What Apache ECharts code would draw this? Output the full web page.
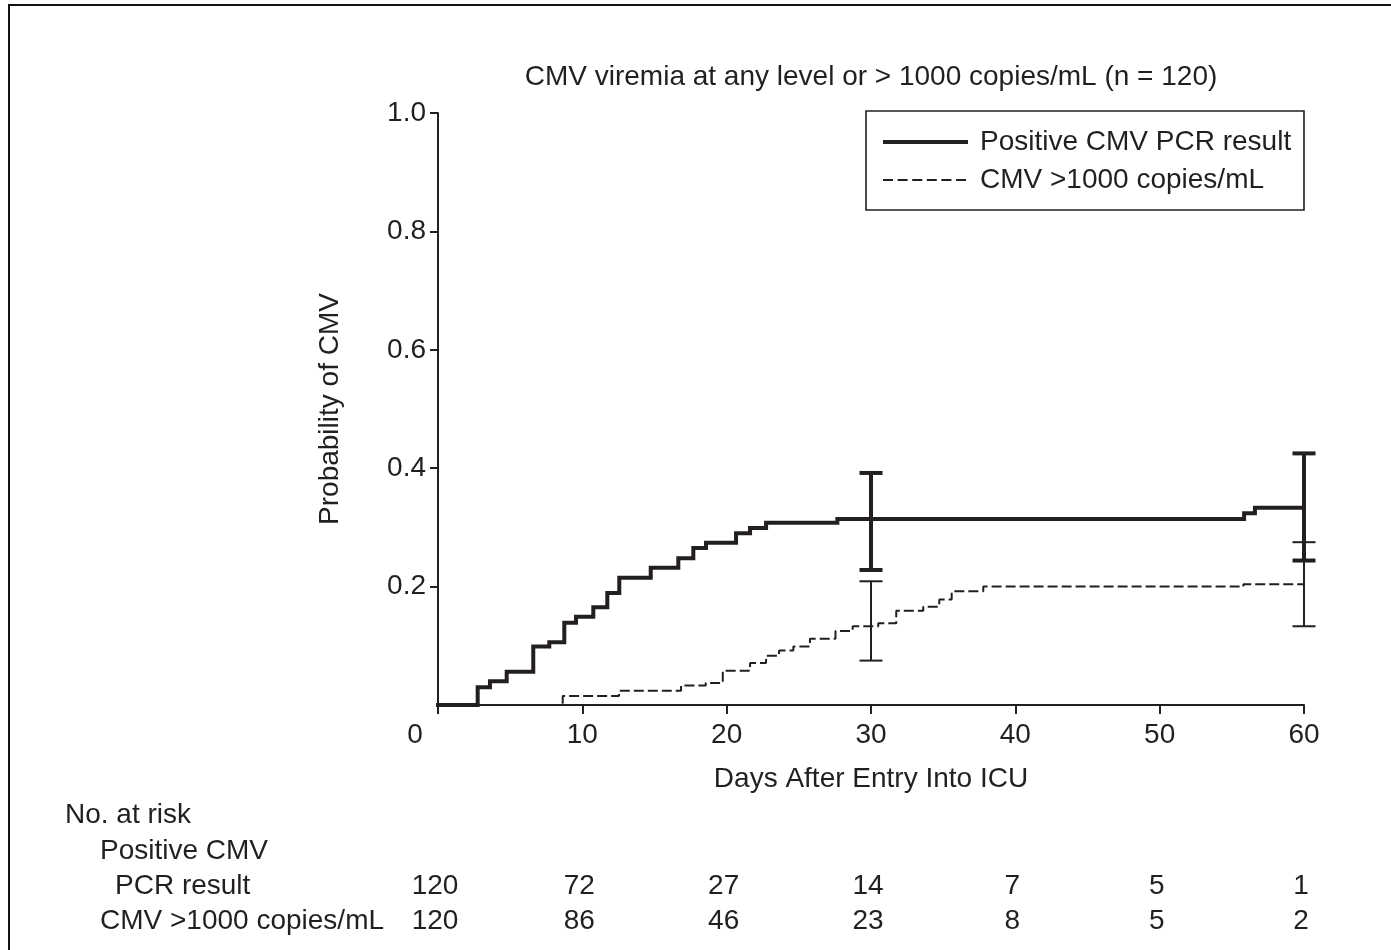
<!DOCTYPE html>
<html><head><meta charset="utf-8">
<script src="https://cdn.jsdelivr.net/npm/echarts@6/dist/echarts.min.js"></script>
<style>html,body{margin:0;padding:0;background:#fff}#c{width:1391px;height:950px}</style>
</head><body><div id="c"></div>
<script>
const titleText = 'CMV viremia at any level or > 1000 copies/mL (n = 120)';
const xName = 'Days After Entry Into ICU';
const yName = 'Probability of CMV';
const seriesNames = ['Positive CMV PCR result', 'CMV >1000 copies/mL'];
const xTicks = [0, 10, 20, 30, 40, 50, 60];
const yTicks = [0.2, 0.4, 0.6, 0.8, 1.0];
const pcrDays = [0, 2.75, 3.6, 4.76, 6.6, 7.71, 8.75, 9.56, 10.76, 11.73, 12.56, 14.74, 16.65, 17.69, 18.57, 20.65, 21.62, 22.73, 27.67, 55.85, 56.6, 60];
const pcrProb = [0, 0.030, 0.040, 0.056, 0.099, 0.106, 0.139, 0.149, 0.165, 0.189, 0.215, 0.232, 0.248, 0.265, 0.274, 0.290, 0.299, 0.308, 0.314, 0.324, 0.333, 0.333];
const hiDays = [0, 8.64, 12.54, 16.84, 18.55, 19.73, 21.62, 22.73, 23.63, 24.62, 25.77, 27.54, 28.73, 30.5, 31.75, 33.62, 34.73, 35.59, 37.78, 55.8, 60];
const hiProb = [0, 0.015, 0.024, 0.033, 0.037, 0.058, 0.071, 0.083, 0.092, 0.099, 0.112, 0.125, 0.133, 0.138, 0.159, 0.166, 0.178, 0.192, 0.200, 0.204, 0.204];
const pcrCI = [[30, 0.228, 0.392], [60, 0.244, 0.425]];
const hiCI = [[30, 0.075, 0.209], [60, 0.133, 0.275]];
const riskDays = [0, 10, 20, 30, 40, 50, 60];
const riskPcr = [120, 72, 27, 14, 7, 5, 1];
const riskHi = [120, 86, 46, 23, 8, 5, 2];
const riskTitle = 'No. at risk';
const riskRowLabels = ['Positive CMV', 'PCR result', 'CMV >1000 copies/mL'];

const INK = '#231f20';
const FONT = '"Liberation Sans", Arial, sans-serif';
const FS = 28;

function zip(a, b) { return a.map((v, i) => [v, b[i]]); }

// legend icons: a box of 85x28 (corner points) holding a solid bar or dashes
const solidIcon = 'path://M0,0L0,0M85,28L85,28M0,12H85V16H0Z';
let dashIcon = 'path://M0,0L0,0M85,28L85,28';
for (let k = 0; k < 6; k++) {
  const x0 = k * 14.6, x1 = Math.min(x0 + 10, 85);
  dashIcon += 'M' + x0 + ',13H' + x1 + 'V15H' + x0 + 'Z';
}

function ciSeries(name, data, w) {
  return {
    type: 'custom', name: name + ' CI', data: data, clip: false, silent: true, z: 5,
    renderItem(params, api) {
      const x = api.value(0), lo = api.value(1), hi = api.value(2);
      const pLo = api.coord([x, lo]), pHi = api.coord([x, hi]);
      const cap = 11.5;
      const style = { stroke: INK, lineWidth: w };
      return {
        type: 'group', children: [
          { type: 'line', shape: { x1: pLo[0], y1: pLo[1], x2: pHi[0], y2: pHi[1] }, style },
          { type: 'line', shape: { x1: pLo[0] - cap, y1: pLo[1], x2: pLo[0] + cap, y2: pLo[1] }, style },
          { type: 'line', shape: { x1: pHi[0] - cap, y1: pHi[1], x2: pHi[0] + cap, y2: pHi[1] }, style }
        ]
      };
    }
  };
}

const chart = echarts.init(document.getElementById('c'), null, { renderer: 'canvas' });
chart.setOption({
  animation: false,
  backgroundColor: '#fff',
  textStyle: { fontFamily: FONT, color: INK },
  title: {
    text: titleText, left: 866, top: 58, textAlign: 'center',
    textStyle: { fontSize: FS, fontWeight: 'normal', color: INK, fontFamily: FONT }
  },
  legend: {
    data: [{ name: seriesNames[0], icon: solidIcon }, { name: seriesNames[1], icon: dashIcon }],
    orient: 'vertical', left: 878, top: 123,
    itemWidth: 85, itemHeight: 28, itemGap: 10, selectedMode: false,
    itemStyle: { color: INK, borderWidth: 0 },
    textStyle: { fontSize: FS, color: INK, fontFamily: FONT, padding: [0, 0, 0, 7] }
  },
  grid: { left: 438, top: 113, right: 87, bottom: 245, containLabel: false },
  xAxis: {
    type: 'value', min: 0, max: 60, interval: 10,
    name: xName, nameLocation: 'middle', nameGap: 60,
    nameTextStyle: { fontSize: FS, color: INK, fontFamily: FONT },
    axisLine: { show: true, onZero: false, lineStyle: { color: INK, width: 2 } },
    axisTick: { show: true, length: 9, lineStyle: { color: INK, width: 2 }, customValues: xTicks },
    axisLabel: {
      fontSize: FS, color: INK, fontFamily: FONT, margin: 16, customValues: xTicks,
      formatter: v => v === 0 ? '{z|0}' : String(v),
      rich: { z: { fontSize: FS, color: INK, fontFamily: FONT, padding: [0, 46, 0, 0] } }
    },
    splitLine: { show: false }
  },
  yAxis: {
    type: 'value', min: 0, max: 1, interval: 0.2,
    name: yName, nameLocation: 'middle', nameGap: 94, nameRotate: 90,
    nameTextStyle: { fontSize: FS, color: INK, fontFamily: FONT },
    axisLine: { show: true, onZero: false, lineStyle: { color: INK, width: 2 } },
    axisTick: { show: true, length: 8, lineStyle: { color: INK, width: 2 }, customValues: yTicks },
    axisLabel: {
      fontSize: FS, color: INK, fontFamily: FONT, margin: 12, customValues: yTicks,
      formatter: v => v.toFixed(1)
    },
    splitLine: { show: false }
  },
  series: [
    {
      name: seriesNames[0], type: 'line', step: 'end', data: zip(pcrDays, pcrProb),
      symbol: 'none', clip: false, z: 4,
      lineStyle: { color: INK, width: 4, cap: 'square', join: 'miter' }, itemStyle: { color: INK }
    },
    {
      name: seriesNames[1], type: 'line', step: 'end', data: zip(hiDays, hiProb),
      symbol: 'none', clip: false, z: 3,
      lineStyle: { color: INK, width: 2, type: [10, 4] }, itemStyle: { color: INK }
    },
    ciSeries(seriesNames[0], pcrCI, 4),
    ciSeries(seriesNames[1], hiCI, 2)
  ]
});

// Graphics: frame, legend box, at-risk table (x positions from the chart's x scale)
const g = [];
g.push({ type: 'line', shape: { x1: 8.5, y1: 5, x2: 1391, y2: 5 }, style: { stroke: '#111', lineWidth: 2 }, z: 10 });
g.push({ type: 'line', shape: { x1: 9, y1: 4, x2: 9, y2: 950 }, style: { stroke: '#111', lineWidth: 2 }, z: 10 });
g.push({ type: 'rect', shape: { x: 866, y: 111, width: 438, height: 99 }, style: { fill: null, stroke: INK, lineWidth: 1.6 }, z: 10 });
const txt = (x, y, s, align) => ({
  type: 'text', x: x, y: y, z: 10,
  style: { text: s, fill: INK, font: FS + 'px ' + FONT, textAlign: align || 'left', textVerticalAlign: 'middle' }
});
g.push(txt(65, 815, riskTitle));
g.push(txt(100, 851, riskRowLabels[0]));
g.push(txt(115, 886, riskRowLabels[1]));
g.push(txt(100, 921, riskRowLabels[2]));
riskDays.forEach((d, i) => {
  const px = chart.convertToPixel({ xAxisIndex: 0 }, d);
  g.push(txt(px - 3, 886, String(riskPcr[i]), 'center'));
  g.push(txt(px - 3, 921, String(riskHi[i]), 'center'));
});
chart.setOption({ graphic: g });
</script>
</body></html>
